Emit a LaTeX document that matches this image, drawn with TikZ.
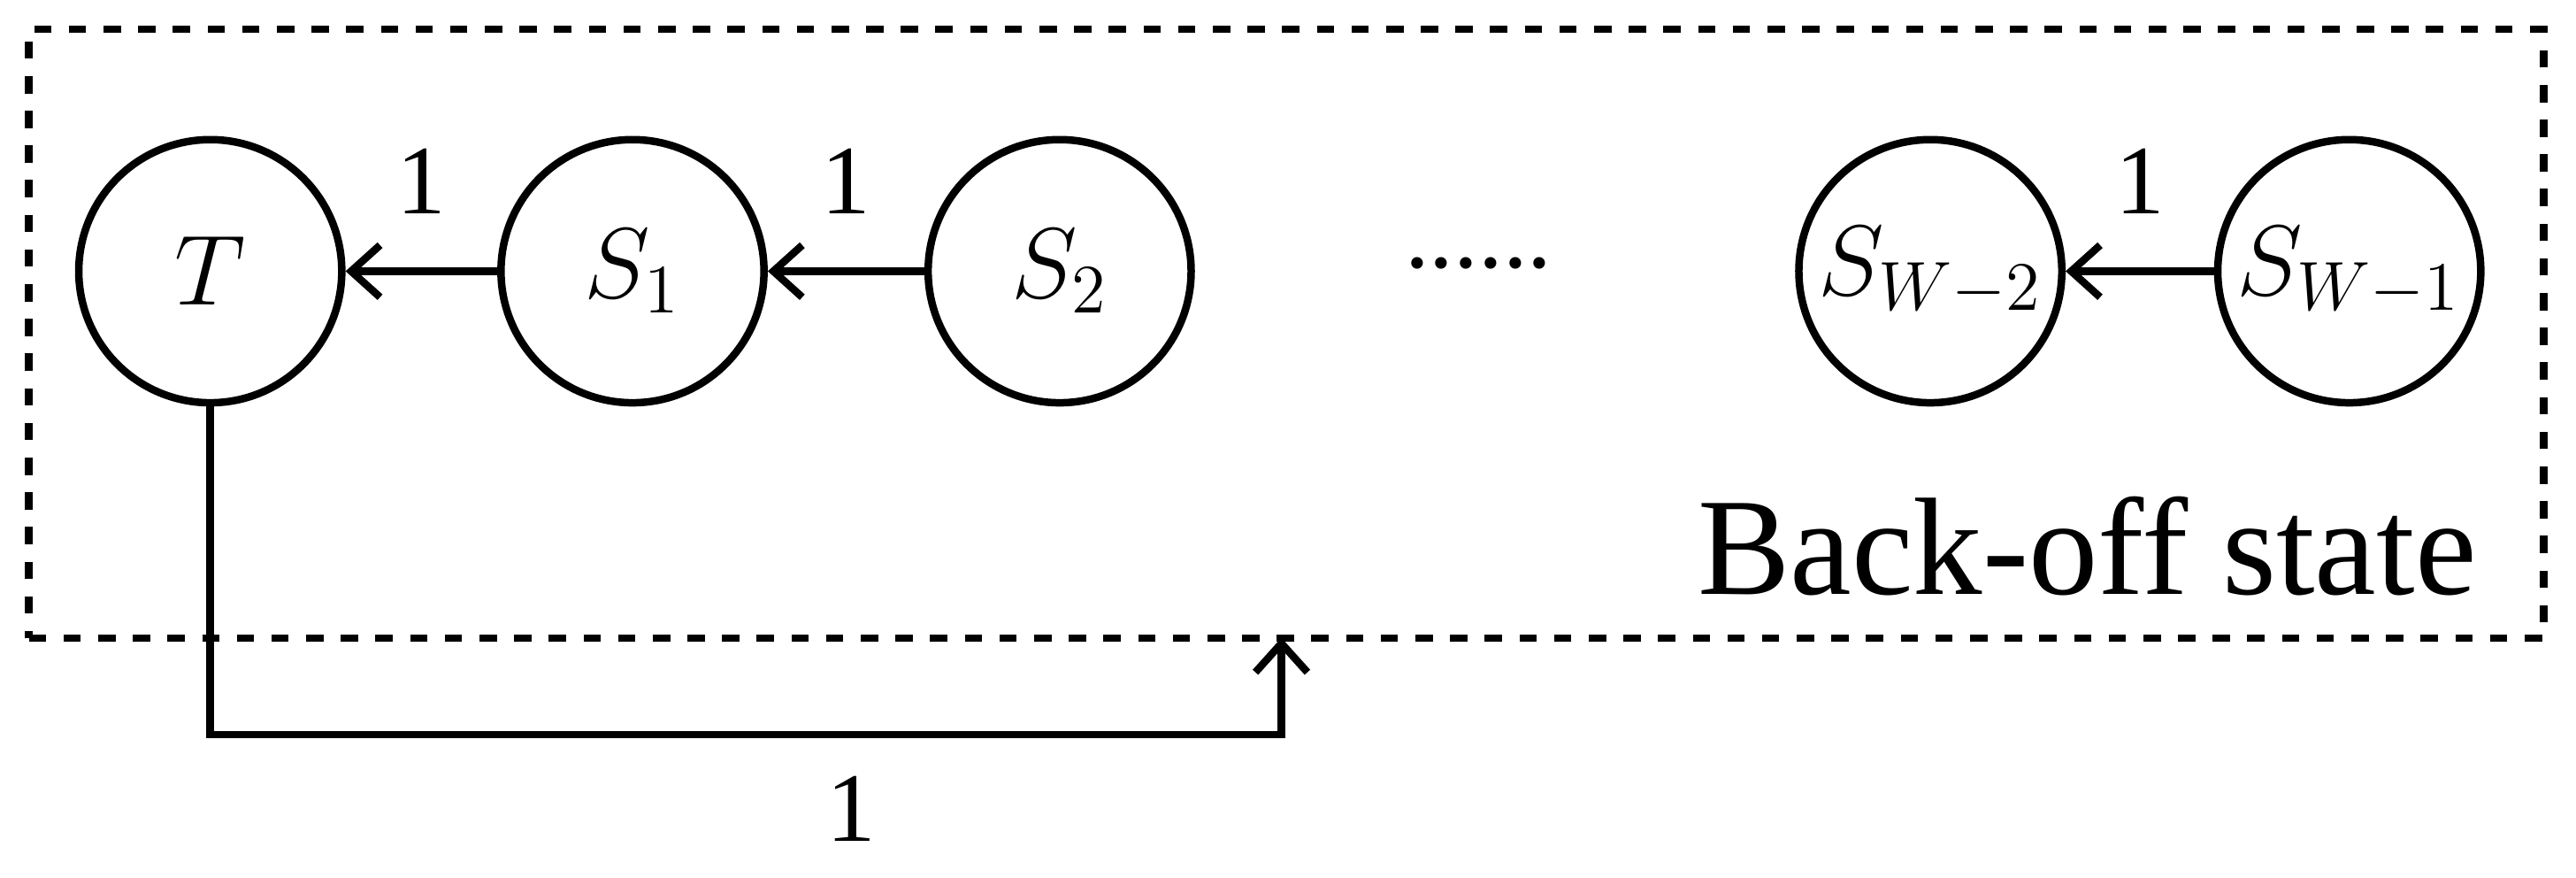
\documentclass[tikz,border=0pt]{standalone}
\usepackage{fontspec}
\setmainfont{Liberation Serif}
\usetikzlibrary{arrows.meta}
\begin{document}
\begin{tikzpicture}[x=0.01cm,y=-0.01cm,
  st/.style={circle,draw,line width=1.3pt,minimum size=1.6cm,inner sep=0pt,font=\fontsize{17}{20}\selectfont},
  arr/.style={->,line width=1.3pt,>={Straight Barb[length=5pt,width=9pt]}},
  lab/.style={font=\fontsize{17}{20}\selectfont}]
\useasboundingbox (0,0) rectangle (1568,534);
\node[draw,dashed,line width=1.3pt,minimum width=15.3cm,minimum height=3.7cm,inner sep=0pt] (box) at (783,203) {};
\node[st] (T) at (128,165) {$T$};
\node[st] (S1) at (385,165) {$S_1$};
\node[st] (S2) at (645,165) {$S_2$};
\node[st] (SW2) at (1175,165) {$S_{W-2}$};
\node[st] (SW1) at (1430,165) {$S_{W-1}$};
\node[lab] (dots) at (900,160) {......};
\draw[arr] (S1) -- (T) node[lab,midway,above=6pt] (l1) {1};
\draw[arr] (S2) -- (S1) node[lab,midway,above=6pt] (l2) {1};
\draw[arr] (SW1) -- (SW2) node[lab,midway,above=6pt] (l3) {1};
\coordinate (tgt) at (780,388);
\draw[arr] (T.south) |- (780,447) -- (tgt);
\node[lab] (l4) at (518,492) {1};
\node[font=\fontsize{24}{28}\selectfont,anchor=south east] (bs) at (1520,375) {Back-off state};
\end{tikzpicture}
\end{document}
